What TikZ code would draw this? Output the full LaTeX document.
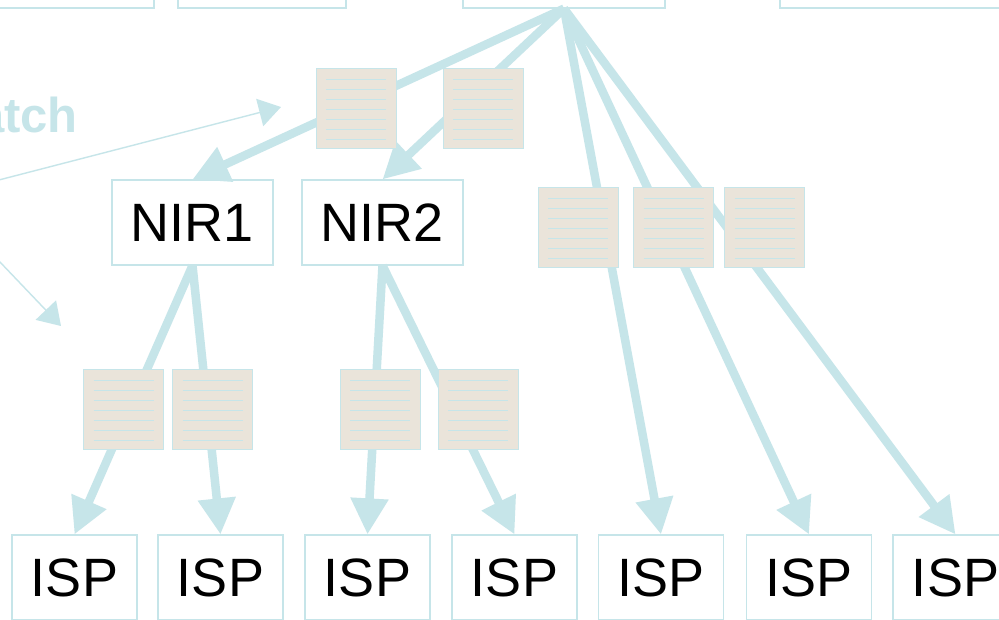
\documentclass[tikz,border=0pt]{standalone}
\usepackage{fontspec}
\setmainfont{Liberation Sans}
\usetikzlibrary{arrows.meta}
\definecolor{linkblue}{HTML}{C6E5E9}
\definecolor{paper}{HTML}{EAE4DA}

\begin{document}
\begin{tikzpicture}[x=1pt,y=-1pt,
  entity/.style={draw=linkblue, line width=1.2pt, fill=white, inner sep=0pt,
    minimum height=85pt, font=\fontsize{54}{54}\selectfont},
  nir/.style={entity, minimum width=161pt},
  isp/.style={entity, minimum width=125pt},
  doc/.style={draw=linkblue, line width=1pt, fill=paper, minimum size=80pt, inner sep=0pt,
    path picture={
      \coordinate (nw) at (path picture bounding box.north west);
      \foreach \k in {0,...,6}
        \draw[linkblue, line width=0.9pt] ([shift={(10,11+10*\k)}]nw) -- ([shift={(70,11+10*\k)}]nw);
    }},
  flow/.style={draw=linkblue, line width=8.5pt,
    -{Triangle[length=36pt, width=36pt]}},
  hint/.style={draw=linkblue, line width=1.4pt,
    -{Triangle[length=22pt, width=28pt]}}
]
\useasboundingbox (0,0) rectangle (999,619);
\clip (0,0) rectangle (999,619);
\fill[white] (0,0) rectangle (999,619);

% upper row of boxes, cut by the top edge
\node[entity, minimum width=184pt] (top1) at (62,-34.5) {};
\node[entity, minimum width=168pt] (top2) at (262,-34.5) {};
\node[entity, minimum width=202pt] (top3) at (564,-34.5) {};
\node[entity, minimum width=240pt] (top4) at (900,-34.5) {};

% registries
\node[nir] (nir1) at (192.5,222.5) {NIR1};
\node[nir] (nir2) at (382.5,222.5) {NIR2};

% providers
\node[isp] (isp1) at (74.5,577.5) {ISP};
\node[isp] (isp2) at (220.5,577.5) {ISP};
\node[isp] (isp3) at (367.5,577.5) {ISP};
\node[isp] (isp4) at (514.5,577.5) {ISP};
\node[isp] (isp5) at (661,577.5) {ISP};
\node[isp] (isp6) at (809,577.5) {ISP};
\node[isp] (isp7) at (955.5,577.5) {ISP};

% label on the left
\node[anchor=base east, inner sep=0pt, text=linkblue,
  font=\fontsize{49}{49}\selectfont\bfseries] (lbl) at (78,132) {atch};

% thin pointers from the left
\coordinate (src) at (-63,196);
\coordinate (tipA) at (281,107);
\coordinate (tipB) at (61,326);
\draw[hint] (src) -- (tipA);
\draw[hint] (src) -- (tipB);

% allocation arrows
\draw[flow] (top3.south) -- (nir1.north);
\draw[flow] (top3.south) -- (nir2.north);
\draw[flow] (top3.south) -- (isp5.north);
\draw[flow] (top3.south) -- (isp6.north);
\draw[flow] (top3.south) -- (isp7.north);
\draw[flow] (nir1.south) -- (isp1.north);
\draw[flow] (nir1.south) -- (isp2.north);
\draw[flow] (nir2.south) -- (isp3.north);
\draw[flow] (nir2.south) -- (isp4.north);

% address blocks lying on the arrows
\node[doc] (d1) at (356,108) {};
\node[doc] (d2) at (483,108) {};
\node[doc] (d3) at (578,227) {};
\node[doc] (d4) at (673.5,227) {};
\node[doc] (d5) at (764.5,227) {};
\node[doc] (d6) at (123.5,409) {};
\node[doc] (d7) at (212.5,409) {};
\node[doc] (d8) at (380,409) {};
\node[doc] (d9) at (478,409) {};
\end{tikzpicture}
\end{document}
